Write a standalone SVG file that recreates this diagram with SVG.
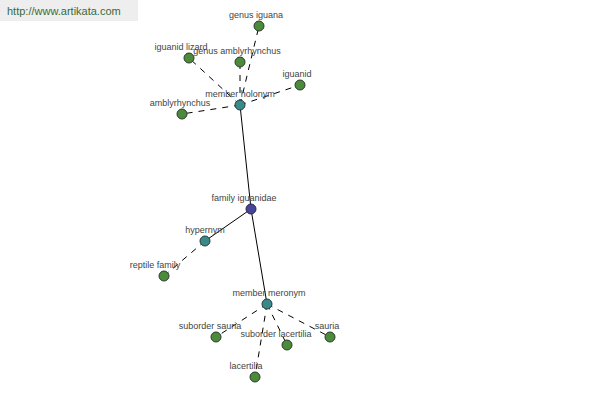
<svg xmlns="http://www.w3.org/2000/svg" width="600" height="400" viewBox="0 0 600 400">
<style>
.lbl{font-family:"Liberation Sans",Arial,sans-serif;font-size:9px;fill:#444;text-anchor:middle}
.leaf{fill:#4b8b3b;stroke:#2a3a2a;stroke-width:1}
.rel{fill:#3a8a8a;stroke:#2a3a3a;stroke-width:1}
.main{fill:#45459a;stroke:#2a2a4a;stroke-width:1}
.e{stroke:#000;stroke-width:1;fill:none}
.d{stroke-dasharray:6,6}
</style>
<rect x="0" y="0" width="138" height="21" fill="#eeeeee"/>
<text x="7" y="15" font-family="Liberation Sans,Arial,sans-serif" font-size="11" fill="#3a6a3a">http://www.artikata.com</text>
<g id="connectors">
<line class="e" x1="240" y1="105" x2="251" y2="209"/>
<line class="e" x1="251" y1="209" x2="205" y2="241"/>
<line class="e" x1="251" y1="209" x2="267" y2="304"/>
<line class="e d" x1="240" y1="105" x2="259" y2="26"/>
<line class="e d" x1="240" y1="105" x2="240" y2="62"/>
<line class="e d" x1="240" y1="105" x2="189" y2="58"/>
<line class="e d" x1="240" y1="105" x2="300" y2="85"/>
<line class="e d" x1="240" y1="105" x2="182" y2="114"/>
<line class="e d" x1="205" y1="241" x2="164" y2="276"/>
<line class="e d" x1="267" y1="304" x2="216" y2="337"/>
<line class="e d" x1="267" y1="304" x2="287" y2="345"/>
<line class="e d" x1="267" y1="304" x2="330" y2="337"/>
<line class="e d" x1="267" y1="304" x2="255" y2="377"/>
</g>
<g id="genus-iguana"><circle class="leaf" cx="259" cy="26" r="5"/><text class="lbl" x="256" y="18">genus iguana</text></g>
<g id="genus-amblyrhynchus"><circle class="leaf" cx="240" cy="62" r="5"/><text class="lbl" x="237" y="54">genus amblyrhynchus</text></g>
<g id="iguanid-lizard"><circle class="leaf" cx="189" cy="58" r="5"/><text class="lbl" x="181" y="50">iguanid lizard</text></g>
<g id="iguanid"><circle class="leaf" cx="300" cy="85" r="5"/><text class="lbl" x="297" y="77">iguanid</text></g>
<g id="member-holonym"><circle class="rel" cx="240" cy="105" r="5"/><text class="lbl" x="240" y="97">member holonym</text></g>
<g id="amblyrhynchus"><circle class="leaf" cx="182" cy="114" r="5"/><text class="lbl" x="180" y="106">amblyrhynchus</text></g>
<g id="family-iguanidae"><circle class="main" cx="251" cy="209" r="5"/><text class="lbl" x="244" y="201">family iguanidae</text></g>
<g id="hypernym"><circle class="rel" cx="205" cy="241" r="5"/><text class="lbl" x="205" y="233">hypernym</text></g>
<g id="reptile-family"><circle class="leaf" cx="164" cy="276" r="5"/><text class="lbl" x="155" y="268">reptile family</text></g>
<g id="member-meronym"><circle class="rel" cx="267" cy="304" r="5"/><text class="lbl" x="269" y="296">member meronym</text></g>
<g id="suborder-sauria"><circle class="leaf" cx="216" cy="337" r="5"/><text class="lbl" x="210" y="329">suborder sauria</text></g>
<g id="suborder-lacertilia"><circle class="leaf" cx="287" cy="345" r="5"/><text class="lbl" x="276" y="337">suborder lacertilia</text></g>
<g id="sauria"><circle class="leaf" cx="330" cy="337" r="5"/><text class="lbl" x="327" y="329">sauria</text></g>
<g id="lacertilia"><circle class="leaf" cx="255" cy="377" r="5"/><text class="lbl" x="246" y="369">lacertilia</text></g>
</svg>
